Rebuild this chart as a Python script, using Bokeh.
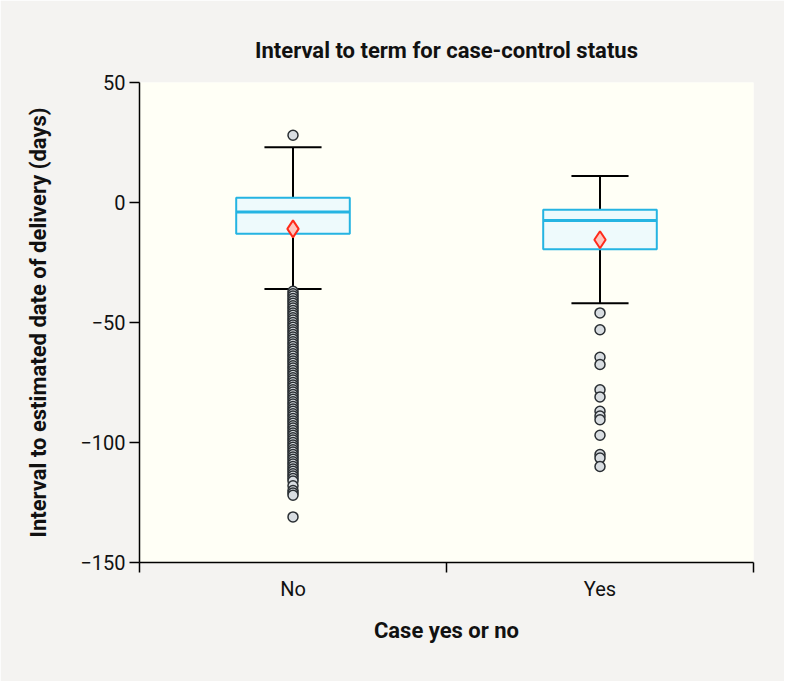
from bokeh.plotting import figure
from bokeh.models import Range1d, FixedTicker
from bokeh.embed import file_html
from bokeh.resources import INLINE

categories = ["No", "Yes"]
q1 = [-13, -19.5]
median = [-4, -7.5]
q3 = [2, -3]
whisker_low = [-36, -42]
whisker_high = [23, 11]
means = [-11, -15.5]
outliers_no = [28,
    -37, -38, -39, -40, -41, -42, -43, -44, -45, -46, -47, -48, -49, -50,
    -51, -52, -53, -54, -55, -56, -57, -58, -59, -60, -61, -62, -63, -64, -65,
    -66, -67, -68, -69, -70, -71, -72, -73, -74, -75, -76, -77, -78, -79, -80,
    -81, -82, -83, -84, -85, -86, -87, -88, -89, -90, -91, -92, -93, -94, -95,
    -96, -97, -98, -99, -100, -101, -102, -103, -104, -105, -106, -107, -108,
    -109, -110, -111, -112, -113, -114, -115, -116, -118, -120, -121, -122, -131]
outliers_yes = [-46, -53, -64.5, -67.5, -78, -81, -87, -89, -90.5, -97, -105, -106.5, -110]
y_ticks = [50, 0, -50, -100, -150]

FONT = "Roboto, sans-serif"

pos = [i + 0.5 for i in range(len(categories))]
BOX_W = 0.37
CAP_W = 0.186

p = figure(width=784, height=681, output_backend="svg", toolbar_location=None,
           x_range=Range1d(0, 2), y_range=Range1d(-150, 50),
           min_border_left=139, min_border_right=31, min_border_top=82, min_border_bottom=119,
           title="Interval to term for case-control status")
p.background_fill_color = "#fffff6"
p.border_fill_color = "#f4f3f1"
p.outline_line_color = None
p.xgrid.grid_line_color = None
p.ygrid.grid_line_color = None

p.title.align = "center"
p.title.text_font = FONT
p.title.text_font_size = "22px"
p.title.text_font_style = "bold"
p.title.text_color = "#111111"
p.title.standoff = 40

# whiskers
p.segment(x0=pos, y0=q3, x1=pos, y1=whisker_high, line_color="black", line_width=2)
p.segment(x0=pos, y0=q1, x1=pos, y1=whisker_low, line_color="black", line_width=2)
p.segment(x0=[x - CAP_W / 2 for x in pos], y0=whisker_high, x1=[x + CAP_W / 2 for x in pos],
          y1=whisker_high, line_color="black", line_width=2)
p.segment(x0=[x - CAP_W / 2 for x in pos], y0=whisker_low, x1=[x + CAP_W / 2 for x in pos],
          y1=whisker_low, line_color="black", line_width=2)

# boxes
p.vbar(x=pos, width=BOX_W, top=q3, bottom=q1, fill_color="#eefafc",
       line_color="#25b4e2", line_width=2)
p.segment(x0=[x - BOX_W / 2 for x in pos], y0=median, x1=[x + BOX_W / 2 for x in pos],
          y1=median, line_color="#25b4e2", line_width=3)

# outliers
p.scatter(x=[pos[0]] * len(outliers_no), y=outliers_no, marker="circle", size=10,
          fill_color="#d8dde1", line_color="#2a2f33", line_width=1.5)
p.scatter(x=[pos[1]] * len(outliers_yes), y=outliers_yes, marker="circle", size=10,
          fill_color="#d8dde1", line_color="#2a2f33", line_width=1.5)

# means
p.scatter(x=pos, y=means, marker="diamond", size=17, fill_color="#ffc6bf",
          line_color="#ff2a1a", line_width=2)

# axes
xa = p.xaxis[0]
xa.ticker = FixedTicker(ticks=pos, minor_ticks=[0, 1, 2])
xa.major_label_overrides = {pos[i]: c for i, c in enumerate(categories)}
xa.major_tick_line_color = None
xa.minor_tick_out = 10
xa.minor_tick_in = 0
xa.minor_tick_line_color = "black"
xa.minor_tick_line_width = 1.5
xa.axis_label = "Case yes or no"
xa.axis_label_standoff = 14
xa.major_label_standoff = 4

ya = p.yaxis[0]
ya.ticker = FixedTicker(ticks=y_ticks, minor_ticks=[])
ya.major_tick_out = 10
ya.major_tick_in = 0
ya.major_tick_line_width = 1.5
ya.axis_label = "Interval to estimated date of delivery (days)"
ya.axis_label_standoff = 26
ya.major_label_standoff = 4

for ax in (xa, ya):
    ax.axis_line_color = "black"
    ax.axis_line_width = 1.5
    ax.major_label_text_font = FONT
    ax.major_label_text_font_size = "20px"
    ax.major_label_text_color = "#111111"
    ax.axis_label_text_font = FONT
    ax.axis_label_text_font_size = "22px"
    ax.axis_label_text_font_style = "bold"
    ax.axis_label_text_color = "#111111"

open("out.html", "w").write(file_html(p, INLINE))
